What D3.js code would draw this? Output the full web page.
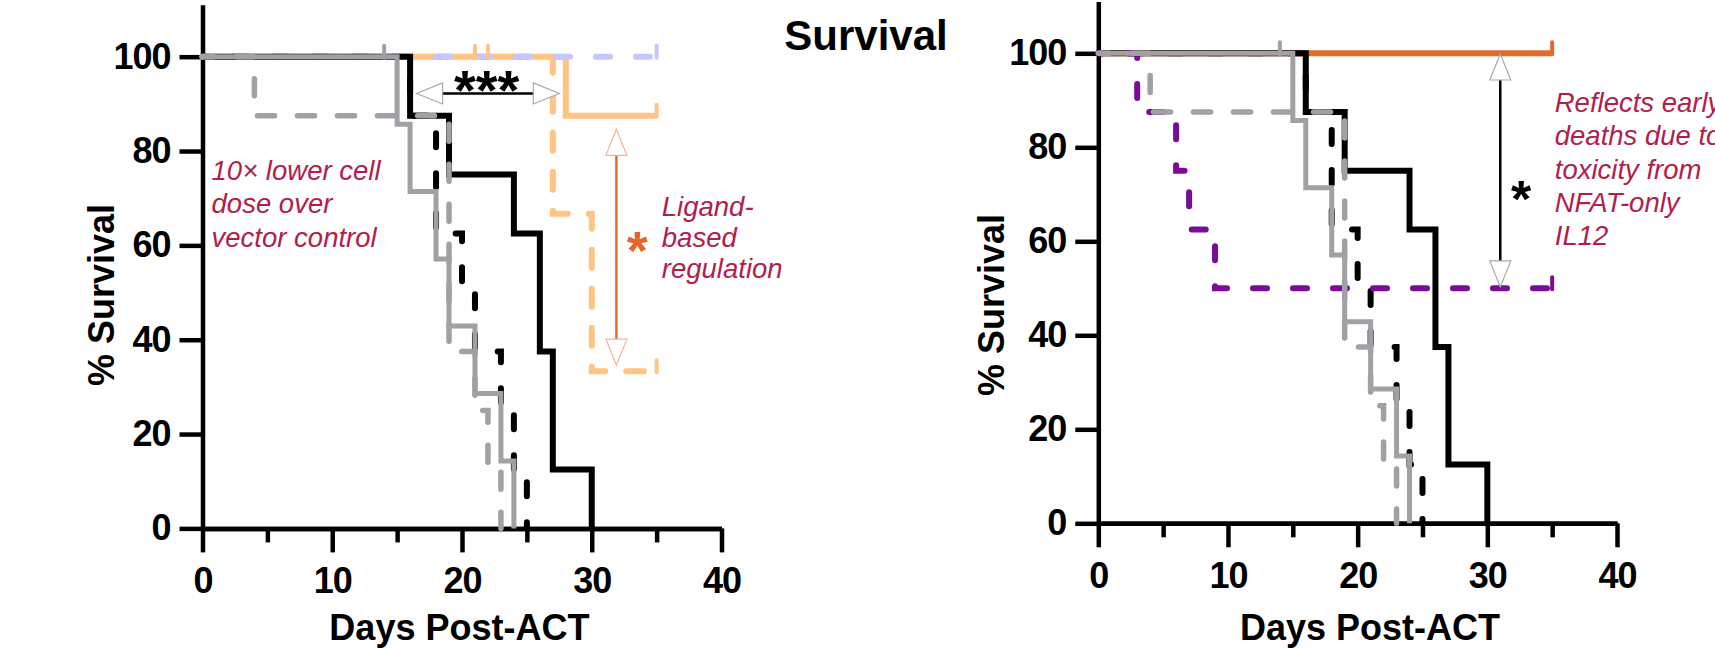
<!DOCTYPE html>
<html>
<head>
<meta charset="utf-8">
<script src="https://cdn.jsdelivr.net/npm/d3@7"></script>
<style>
  body { margin: 0; background: #fff; }
  svg text { font-family: "Liberation Sans", Arial, Helvetica, sans-serif; }
</style>
</head>
<body>
<div id="chart"></div>
<script>
// Kaplan-Meier steps: day of each step and % survival after it
const blackSolidDays = [0, 16, 19, 24, 26, 27, 30];
const blackSolidPct  = [100, 87.5, 75, 62.5, 37.5, 12.5, 0];

const blackDashDays = [0, 16, 18, 20, 21, 23, 24, 25];
const blackDashPct  = [100, 87.5, 62.5, 50, 37.5, 25, 12.5, 0];

const greySolidDays = [0, 15, 16, 18, 19, 21, 23, 24];
const greySolidPct  = [100, 85.7, 71.4, 57.1, 42.9, 28.6, 14.3, 0];

const greyDashDays = [0, 4, 19, 21, 22, 23];
const greyDashPct  = [100, 87.5, 37.5, 25, 12.5, 0];

// left panel only
const ligandSolidDays = [0, 28, 35];
const ligandSolidPct  = [100, 87.5, 87.5];
const ligandDashDays = [0, 27, 30, 35];
const ligandDashPct  = [100, 66.7, 33.3, 33.3];
const lavenderDays = [0, 35];
const lavenderPct  = [100, 100];

// right panel only
const nfatDays = [0, 3, 6, 7, 9, 35];
const nfatPct  = [100, 87.5, 75, 62.5, 50, 50];
const il12Days = [0, 35];
const il12Pct  = [100, 100];

// censor marks
const greyCensorDays = [14];
const greyCensorPct  = [100];
const ligandCensorDays = [21, 22, 35];
const ligandCensorPct  = [100, 100, 87.5];
const ligandDashCensorDays = [35];
const ligandDashCensorPct  = [33.3];
const lavenderCensorDays = [35];
const lavenderCensorPct  = [100];
const nfatCensorDays = [35];
const nfatCensorPct  = [50];
const il12CensorDays = [35];
const il12CensorPct  = [100];

const yTicks = [0, 20, 40, 60, 80, 100];
const xTicks = [0, 10, 20, 30, 40];
const xMinorTicks = [5, 15, 25, 35];

const leftNote = ['10\u00d7 lower cell', 'dose over', 'vector control'];
const ligandNote = ['Ligand-', 'based', 'regulation'];
const rightNote = ['Reflects early', 'deaths due to', 'toxicity from', 'NFAT-only', 'IL12'];

const W = 1715, H = 649;
const GREY = '#a0a0a5', LIGHT_OR = '#ffc383', LAV = '#c6c6ff',
      DARK_OR = '#e46a29', PURPLE = '#7a0c99', NOTE = '#b21e4b';

const svg = d3.select('#chart').append('svg')
  .attr('width', W).attr('height', H);

svg.append('text')
  .attr('x', 866).attr('y', 50)
  .attr('text-anchor', 'middle')
  .attr('font-size', 42).attr('font-weight', 'bold')
  .text('Survival');

// dash = [pattern, offset]
function drawSeries(g, x, y, days, pct, color, width, dash) {
  var pts = days.map(function (d, i) { return [d, pct[i]]; });
  var line = d3.line()
    .x(function (d) { return x(d[0]); })
    .y(function (d) { return y(d[1]); })
    .curve(d3.curveStepAfter);
  g.append('path')
    .datum(pts)
    .attr('d', line)
    .attr('fill', 'none')
    .attr('stroke', color)
    .attr('stroke-width', width)
    .attr('stroke-dasharray', dash ? dash[0] : null)
    .attr('stroke-dashoffset', dash ? dash[1] : null)
    .attr('stroke-linecap', dash ? 'round' : 'butt')
    .attr('stroke-linejoin', 'miter');
}

function drawCensor(g, x, y, days, pct, color) {
  g.selectAll(null)
    .data(days.map(function (d, i) { return [d, pct[i]]; }))
    .enter().append('line')
    .attr('x1', function (d) { return x(d[0]); })
    .attr('x2', function (d) { return x(d[0]); })
    .attr('y1', function (d) { return y(d[1]) + 1; })
    .attr('y2', function (d) { return y(d[1]) - 11; })
    .attr('stroke', color)
    .attr('stroke-width', 4)
    .attr('stroke-linecap', 'round');
}

// double-headed arrow with open triangle heads
function drawArrow(g, x1, y1, x2, y2, shaft, head, sw) {
  var len = Math.hypot(x2 - x1, y2 - y1);
  var ux = (x2 - x1) / len, uy = (y2 - y1) / len;
  var hl = 26, hw = 10.5;
  g.append('line')
    .attr('x1', x1 + ux * hl).attr('y1', y1 + uy * hl)
    .attr('x2', x2 - ux * hl).attr('y2', y2 - uy * hl)
    .attr('stroke', shaft).attr('stroke-width', sw);
  [[x1, y1, 1], [x2, y2, -1]].forEach(function (e) {
    var bx = e[0] + e[2] * ux * hl, by = e[1] + e[2] * uy * hl;
    var pts = [[e[0], e[1]], [bx - uy * hw, by + ux * hw], [bx + uy * hw, by - ux * hw]];
    g.append('polygon')
      .attr('points', pts.map(function (p) { return p.join(','); }).join(' '))
      .attr('fill', '#fff')
      .attr('stroke', head)
      .attr('stroke-width', 1.2);
  });
}

function drawNote(g, px, py, lines, lh) {
  var t = g.append('text')
    .attr('x', px).attr('y', py)
    .attr('fill', NOTE)
    .attr('font-size', 27.5)
    .attr('font-style', 'italic');
  lines.forEach(function (s, i) {
    t.append('tspan').attr('x', px).attr('y', py + i * lh).text(s);
  });
}

function drawStar(g, cx, cy, text, color, size) {
  // asterisk glyph sits high; shift baseline so the glyph centre lands on cy
  g.append('text')
    .attr('x', cx).attr('y', cy + size * 0.58)
    .attr('text-anchor', 'middle')
    .attr('font-size', size).attr('font-weight', 'bold')
    .attr('fill', color)
    .text(text);
}

function drawPanel(p) {
  var g = svg.append('g');
  var x = d3.scaleLinear().domain([0, 40]).range([p.x0, p.x1]);
  var y = d3.scaleLinear().domain([0, 111]).range([p.y0, p.yTop]);

  // axes
  var yAxis = d3.axisLeft(y).tickValues(yTicks).tickSize(23).tickPadding(9).tickSizeOuter(0);
  var xAxis = d3.axisBottom(x).tickValues(xTicks).tickSize(24).tickPadding(15).tickSizeOuter(0);
  var xMinor = d3.axisBottom(x).tickValues(xMinorTicks).tickSize(14).tickFormat('').tickSizeOuter(0);

  var ga = g.append('g').attr('class', 'axes');
  ga.append('g').attr('transform', 'translate(0,' + p.y0 + ')').call(xMinor);
  ga.append('g').attr('transform', 'translate(0,' + p.y0 + ')').call(xAxis);
  ga.append('g').attr('transform', 'translate(' + p.x0 + ',0)').call(yAxis);
  ga.selectAll('.domain, .tick line')
    .attr('stroke', '#000').attr('stroke-width', 4.5);
  ga.selectAll('.tick text')
    .attr('font-size', 36).attr('font-weight', 'bold')
    .attr('fill', '#000').attr('letter-spacing', -1);

  g.append('text')
    .attr('transform', 'translate(' + p.yTitleX + ',' + p.yTitleY + ') rotate(-90)')
    .attr('text-anchor', 'middle')
    .attr('font-size', 36).attr('font-weight', 'bold')
    .text('% Survival');
  g.append('text')
    .attr('x', x(p.xTitleDay)).attr('y', 640)
    .attr('text-anchor', 'middle')
    .attr('font-size', 36).attr('font-weight', 'bold')
    .text('Days Post-ACT');

  var gl = g.append('g').attr('class', 'curves');
  p.curves(gl, x, y);
  return g;
}

// left panel: ligand-based regulation
var left = {
  x0: 202.5, x1: 721.5, y0: 528.4, yTop: 4.8,
  yTitleX: 114, yTitleY: 295, xTitleDay: 19.8,
  curves: function (g, x, y) {
    drawSeries(g, x, y, blackDashDays, blackDashPct, '#000', 6, ['14,26', 10]);
    drawSeries(g, x, y, ligandDashDays, ligandDashPct, LIGHT_OR, 6, ['18,21', 2.7]);
    drawSeries(g, x, y, ligandSolidDays, ligandSolidPct, LIGHT_OR, 6);
    drawSeries(g, x, y, lavenderDays, lavenderPct, LAV, 6, ['14,26', 6.5]);
    drawSeries(g, x, y, blackSolidDays, blackSolidPct, '#000', 6);
    drawSeries(g, x, y, greySolidDays, greySolidPct, GREY, 5);
    drawSeries(g, x, y, greyDashDays, greyDashPct, GREY, 5.5, ['17,23', 6]);
    drawCensor(g, x, y, greyCensorDays, greyCensorPct, GREY);
    drawCensor(g, x, y, ligandCensorDays, ligandCensorPct, LIGHT_OR);
    drawCensor(g, x, y, ligandDashCensorDays, ligandDashCensorPct, LIGHT_OR);
    drawCensor(g, x, y, lavenderCensorDays, lavenderCensorPct, LAV);

    drawArrow(g, x(16.5), y(92.2), x(27.5), y(92.2), '#000', '#a8a8a8', 2.5);
    drawStar(g, x(21.9), y(95.8), '***', '#000', 56);
    drawArrow(g, x(31.9), y(84.6), x(31.9), y(34.6), DARK_OR, '#f2b49a', 2.5);
    drawStar(g, x(33.5), y(61.6), '*', '#e2672b', 54);
    drawNote(g, x(0.7), 180, leftNote, 33.4);
    drawNote(g, x(35.4), 216, ligandNote, 31);
  }
};

// right panel: NFAT-only IL12
var right = {
  x0: 1098.3, x1: 1617, y0: 523.3, yTop: 1.6,
  yTitleX: 1004, yTitleY: 305, xTitleDay: 20.95,
  curves: function (g, x, y) {
    drawSeries(g, x, y, blackDashDays, blackDashPct, '#000', 6, ['14,26', 10]);
    drawSeries(g, x, y, il12Days, il12Pct, DARK_OR, 6);
    drawSeries(g, x, y, blackSolidDays, blackSolidPct, '#000', 6);
    drawSeries(g, x, y, nfatDays, nfatPct, PURPLE, 6, ['14,26', 10.3]);
    drawSeries(g, x, y, greySolidDays, greySolidPct, GREY, 5);
    drawSeries(g, x, y, greyDashDays, greyDashPct, GREY, 5.5, ['17,23', 6]);
    drawCensor(g, x, y, greyCensorDays, greyCensorPct, GREY);
    drawCensor(g, x, y, il12CensorDays, il12CensorPct, DARK_OR);
    drawCensor(g, x, y, nfatCensorDays, nfatCensorPct, PURPLE);

    drawArrow(g, x(31.0), y(99.85), x(31.0), y(50.3), '#000', '#a8a8a8', 2.5);
    drawStar(g, x(32.6), y(71.6), '*', '#000', 52);
    drawNote(g, x(35.2), 111.7, rightNote, 33.4);
  }
};

drawPanel(left);
drawPanel(right);
</script>
</body>
</html>
